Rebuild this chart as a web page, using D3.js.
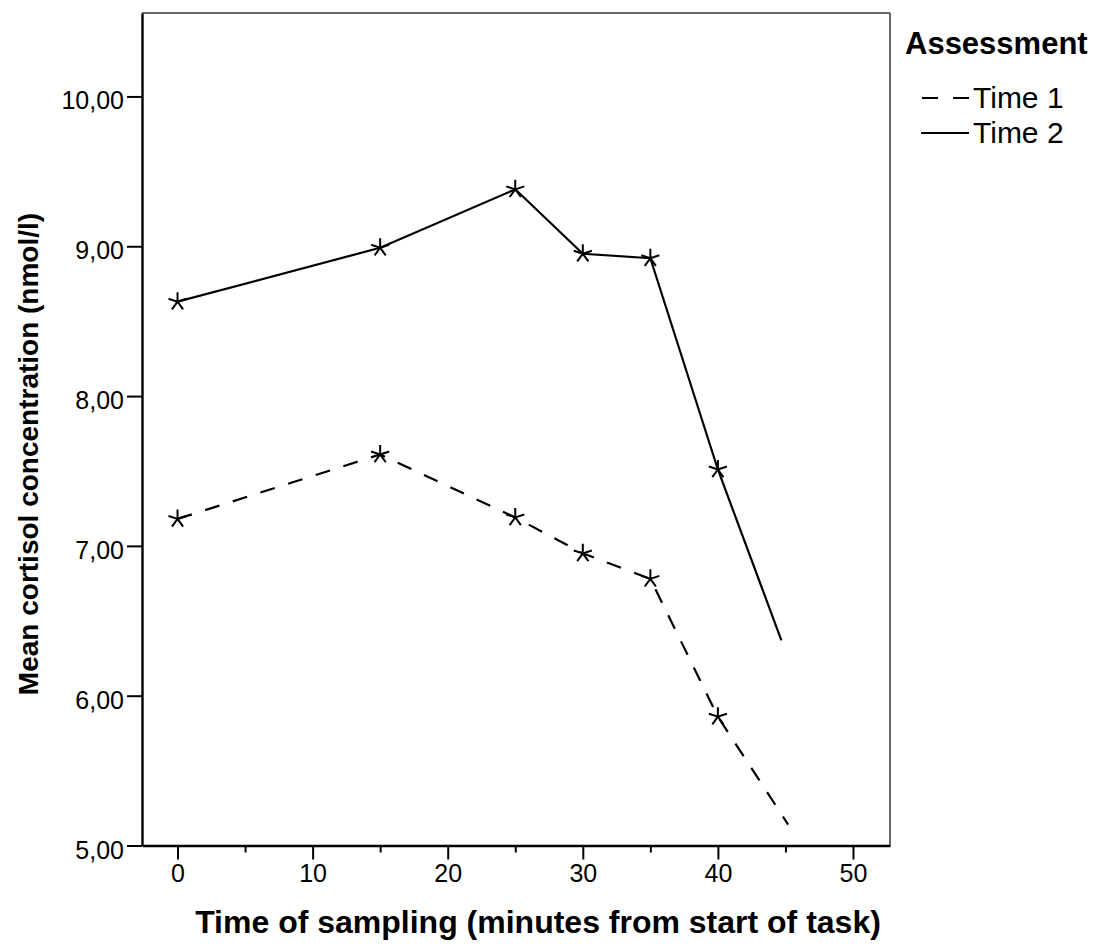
<!DOCTYPE html>
<html>
<head>
<meta charset="utf-8">
<script src="https://cdn.jsdelivr.net/npm/d3@7"></script>
<style>
  body { margin: 0; background: #fff; }
  text { font-family: "Liberation Sans", Arial, sans-serif; fill: #000; }
</style>
</head>
<body>
<svg id="chart" width="1093" height="947"></svg>
<script>
// minutes from start of task
var time1_x = [0, 15, 25, 30, 35, 40, 45.2];
var time1_y = [7.18, 7.61, 7.19, 6.95, 6.78, 5.86, 5.14];
var time2_x = [0, 15, 25, 30, 35, 40, 44.7];
var time2_y = [8.63, 8.99, 9.38, 8.95, 8.92, 7.51, 6.37];
// last point of each series is drawn without a marker
var series_names = ["Time 1", "Time 2"];
var y_ticks = [5, 6, 7, 8, 9, 10];
var x_ticks = [0, 10, 20, 30, 40, 50];
var x_minor = [5, 15, 25, 35, 45];

var plot_left = 142, plot_right = 890, plot_top = 13, plot_bottom = 845.5;

var x = d3.scaleLinear().domain([-2.63, 52.74]).range([plot_left, plot_right]);
var y = d3.scaleLinear().domain([5, 10.557]).range([plot_bottom, plot_top]);

var svg = d3.select("#chart");
svg.append("rect").attr("width", 1093).attr("height", 947).attr("fill", "#fff");

/* frame: top and right grey, axes black */
svg.append("line").attr("x1", plot_left).attr("x2", plot_right)
    .attr("y1", plot_top).attr("y2", plot_top)
    .attr("stroke", "#666").attr("stroke-width", 2);
svg.append("line").attr("x1", plot_right).attr("x2", plot_right)
    .attr("y1", plot_top).attr("y2", plot_bottom)
    .attr("stroke", "#666").attr("stroke-width", 2);

var fmt = function (d) { return d3.format(".2f")(d).replace(".", ","); };

var yAxis = svg.append("g").attr("transform", "translate(" + plot_left + ",0)")
    .call(d3.axisLeft(y).tickValues(y_ticks).tickFormat(fmt)
        .tickSize(15).tickSizeOuter(0).tickPadding(3));
yAxis.selectAll("text").attr("font-size", 25).attr("dy", "0.5em").attr("fill", "#222");

var xAxis = svg.append("g").attr("transform", "translate(0," + plot_bottom + ")")
    .call(d3.axisBottom(x).tickValues(x_ticks).tickSize(14).tickSizeOuter(0).tickPadding(5));
xAxis.selectAll("text").attr("font-size", 25).attr("fill", "#222");
svg.append("g").attr("transform", "translate(0," + plot_bottom + ")")
    .call(d3.axisBottom(x).tickValues(x_minor).tickSize(7).tickFormat(""))
    .select(".domain").remove();

svg.selectAll(".domain").attr("stroke", "#000").attr("stroke-width", 2.4);
svg.selectAll(".tick line").attr("stroke", "#000").attr("stroke-width", 2);

/* titles */
svg.append("text").attr("x", 538).attr("y", 933).attr("text-anchor", "middle")
    .attr("font-size", 32).attr("font-weight", "bold")
    .text("Time of sampling (minutes from start of task)");
svg.append("text").attr("transform", "translate(38,454) rotate(-90)")
    .attr("text-anchor", "middle").attr("font-size", 28).attr("font-weight", "bold")
    .text("Mean cortisol concentration (nmol/l)");

/* lines */
var line = d3.line().x(function (d) { return x(d[0]); }).y(function (d) { return y(d[1]); });
var series = [
    { name: series_names[0], pts: d3.zip(time1_x, time1_y), dash: "15,14" },
    { name: series_names[1], pts: d3.zip(time2_x, time2_y), dash: null }
];

svg.selectAll("path.series").data(series).enter().append("path")
    .attr("class", "series")
    .attr("d", function (d) { return line(d.pts); })
    .attr("fill", "none").attr("stroke", "#000").attr("stroke-width", 2.2)
    .attr("stroke-dasharray", function (d) { return d.dash; });

/* five armed asterisk marker */
function star(r) {
    var p = "";
    for (var k = 0; k < 5; k++) {
        var a = -Math.PI / 2 + k * 2 * Math.PI / 5;
        p += "M0,0L" + (r * Math.cos(a)).toFixed(2) + "," + (r * Math.sin(a)).toFixed(2);
    }
    return p;
}

series.forEach(function (s) {
    svg.selectAll(null).data(s.pts.slice(0, s.pts.length - 1)).enter().append("path")
        .attr("transform", function (d) { return "translate(" + x(d[0]) + "," + y(d[1]) + ")"; })
        .attr("d", star(9.5))
        .attr("fill", "none").attr("stroke", "#000").attr("stroke-width", 2);
});

/* legend */
var legend = svg.append("g");
legend.append("text").attr("x", 905).attr("y", 54).attr("font-size", 31)
    .attr("font-weight", "bold").text("Assessment");
var items = legend.selectAll("g.item").data(series).enter().append("g")
    .attr("transform", function (d, i) { return "translate(0," + (98 + i * 35) + ")"; });
items.append("line").attr("x1", 921).attr("x2", 969).attr("y1", 0).attr("y2", 0)
    .attr("stroke", "#000").attr("stroke-width", 2)
    .attr("stroke-dasharray", function (d) { return d.dash ? "16,15" : null; })
    .attr("stroke-dashoffset", function (d) { return d.dash ? -1 : null; });
items.append("text").attr("x", 973).attr("y", 10).attr("font-size", 30)
    .attr("fill", "#222").text(function (d) { return d.name; });
</script>
</body>
</html>
